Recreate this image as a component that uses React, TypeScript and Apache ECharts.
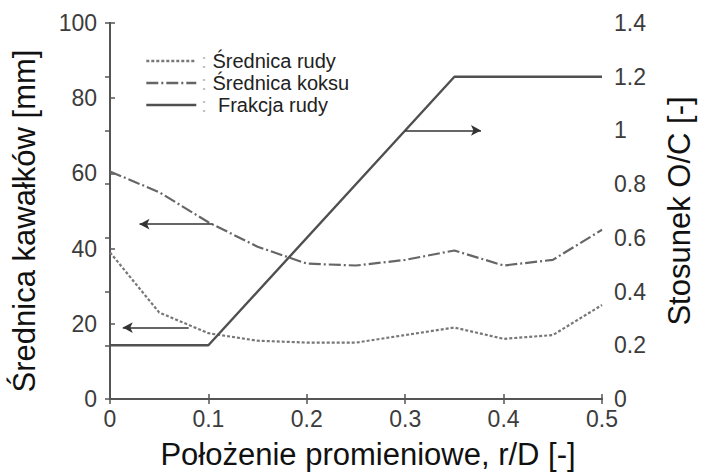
import React, { useEffect, useRef } from "react";
import * as echarts from "echarts";

const positions = [0, 0.05, 0.1, 0.15, 0.2, 0.25, 0.3, 0.35, 0.4, 0.45, 0.5];
const oreDiameter = [39, 23, 17.5, 15.5, 15, 15, 17, 19, 16, 17, 25];
const cokeDiameter = [60.5, 55, 47, 40.5, 36, 35.5, 37, 39.5, 35.5, 37, 45];
const fractionPositions = [0, 0.1, 0.35, 0.5];
const oreFraction = [0.2, 0.2, 1.2, 1.2];
const seriesNames = ["Średnica rudy", "Średnica koksu", "Frakcja rudy"];
const xTitle = "Położenie promieniowe, r/D [-]";
const yLeftTitle = "Średnica kawałków [mm]";
const yRightTitle = "Stosunek O/C [-]";

const FONT = "'Liberation Sans', Arial, Helvetica, sans-serif";

export default function App() {
  const ref = useRef<HTMLDivElement>(null);
  useEffect(() => {
    if (!ref.current) return;
    const chart = echarts.init(ref.current, null, { renderer: "svg" });
    const pair = (xs: number[], ys: number[]) => xs.map((x, i) => [x, ys[i]]);
    const axisLine = { show: true, lineStyle: { color: "#555", width: 2 } };
    const axisTick = { show: true, inside: true, length: 5, lineStyle: { color: "#555", width: 1.5 } };
    const tickLabel = { fontFamily: FONT, fontSize: 23, color: "#3c3c3c", lineHeight: 18 };
    const arrowStyle = { color: "#333", width: 1.5, type: "solid" as const };
    chart.setOption({
      animation: false,
      backgroundColor: "#fff",
      grid: { left: 110, right: 96, top: 23, bottom: 74 },
      legend: {
        orient: "vertical",
        left: 140,
        top: 46,
        itemWidth: 50,
        itemHeight: 14,
        itemGap: 2,
        itemStyle: { opacity: 0 },
        lineStyle: { width: 2.6 },
        formatter: (name: string) =>
          name === seriesNames[2] ? "{c|:}  " + name : "{c|:} " + name,
        textStyle: {
          fontFamily: FONT,
          fontSize: 20,
          lineHeight: 20,
          color: "#222",
          rich: { c: { color: "#bbb", fontSize: 20, lineHeight: 20, fontFamily: FONT } },
        },
        data: seriesNames,
      },
      xAxis: [
        {
          type: "value",
          min: 0,
          max: 0.5,
          interval: 0.1,
          name: xTitle,
          nameLocation: "middle",
          nameGap: 40,
          nameTextStyle: { fontFamily: FONT, fontSize: 31, color: "#111", padding: [0, 0, 0, 24] },
          axisLine,
          axisTick,
          splitLine: { show: false },
          axisLabel: { ...tickLabel, margin: 11 },
        },
        {
          type: "value",
          position: "top",
          min: 0,
          max: 0.5,
          interval: 0.1,
          axisLine,
          axisTick,
          splitLine: { show: false },
          axisLabel: { show: false },
        },
      ],
      yAxis: [
        {
          type: "value",
          min: 0,
          max: 100,
          interval: 20,
          name: yLeftTitle,
          nameLocation: "middle",
          nameRotate: 90,
          nameGap: 70,
          nameTextStyle: { fontFamily: FONT, fontSize: 31, color: "#111", padding: [0, 20, 0, 0] },
          axisLine,
          axisTick,
          splitLine: { show: false },
          axisLabel: { ...tickLabel, margin: 13 },
        },
        {
          type: "value",
          position: "right",
          min: 0,
          max: 1.4,
          interval: 0.2,
          name: yRightTitle,
          nameLocation: "middle",
          nameRotate: 90,
          nameGap: 62,
          nameTextStyle: { fontFamily: FONT, fontSize: 31, color: "#111" },
          axisLine,
          axisTick,
          splitLine: { show: false },
          axisLabel: {
            ...tickLabel,
            margin: 12,
            formatter: (v: number) => String(Math.round(v * 10) / 10),
          },
        },
      ],
      series: [
        {
          name: seriesNames[0],
          type: "line",
          symbol: "none",
          data: pair(positions, oreDiameter),
          lineStyle: { color: "#777", width: 2.2, type: [3, 2] },
          itemStyle: { color: "#777" },
          markLine: {
            silent: true,
            symbol: ["none", "arrow"],
            symbolSize: [8, 10],
            label: { show: false },
            lineStyle: arrowStyle,
            data: [[{ coord: [0.08, 19] }, { coord: [0.013, 19] }]],
          },
        },
        {
          name: seriesNames[1],
          type: "line",
          symbol: "none",
          data: pair(positions, cokeDiameter),
          lineStyle: { color: "#666", width: 2.2, type: [12, 3, 2, 3] },
          itemStyle: { color: "#666" },
          markLine: {
            silent: true,
            symbol: ["none", "arrow"],
            symbolSize: [8, 10],
            label: { show: false },
            lineStyle: arrowStyle,
            data: [[{ coord: [0.104, 46.5] }, { coord: [0.03, 46.5] }]],
          },
        },
        {
          name: seriesNames[2],
          type: "line",
          symbol: "none",
          yAxisIndex: 1,
          data: pair(fractionPositions, oreFraction),
          lineStyle: { color: "#505050", width: 2.4, type: "solid" },
          itemStyle: { color: "#505050" },
          markLine: {
            silent: true,
            symbol: ["none", "arrow"],
            symbolSize: [8, 10],
            label: { show: false },
            lineStyle: arrowStyle,
            data: [[{ coord: [0.3, 1.0] }, { coord: [0.377, 1.0] }]],
          },
        },
      ],
    });
    return () => chart.dispose();
  }, []);
  return <div ref={ref} style={{ width: 703, height: 475, position: "absolute", left: 0, top: 0 }} />;
}
